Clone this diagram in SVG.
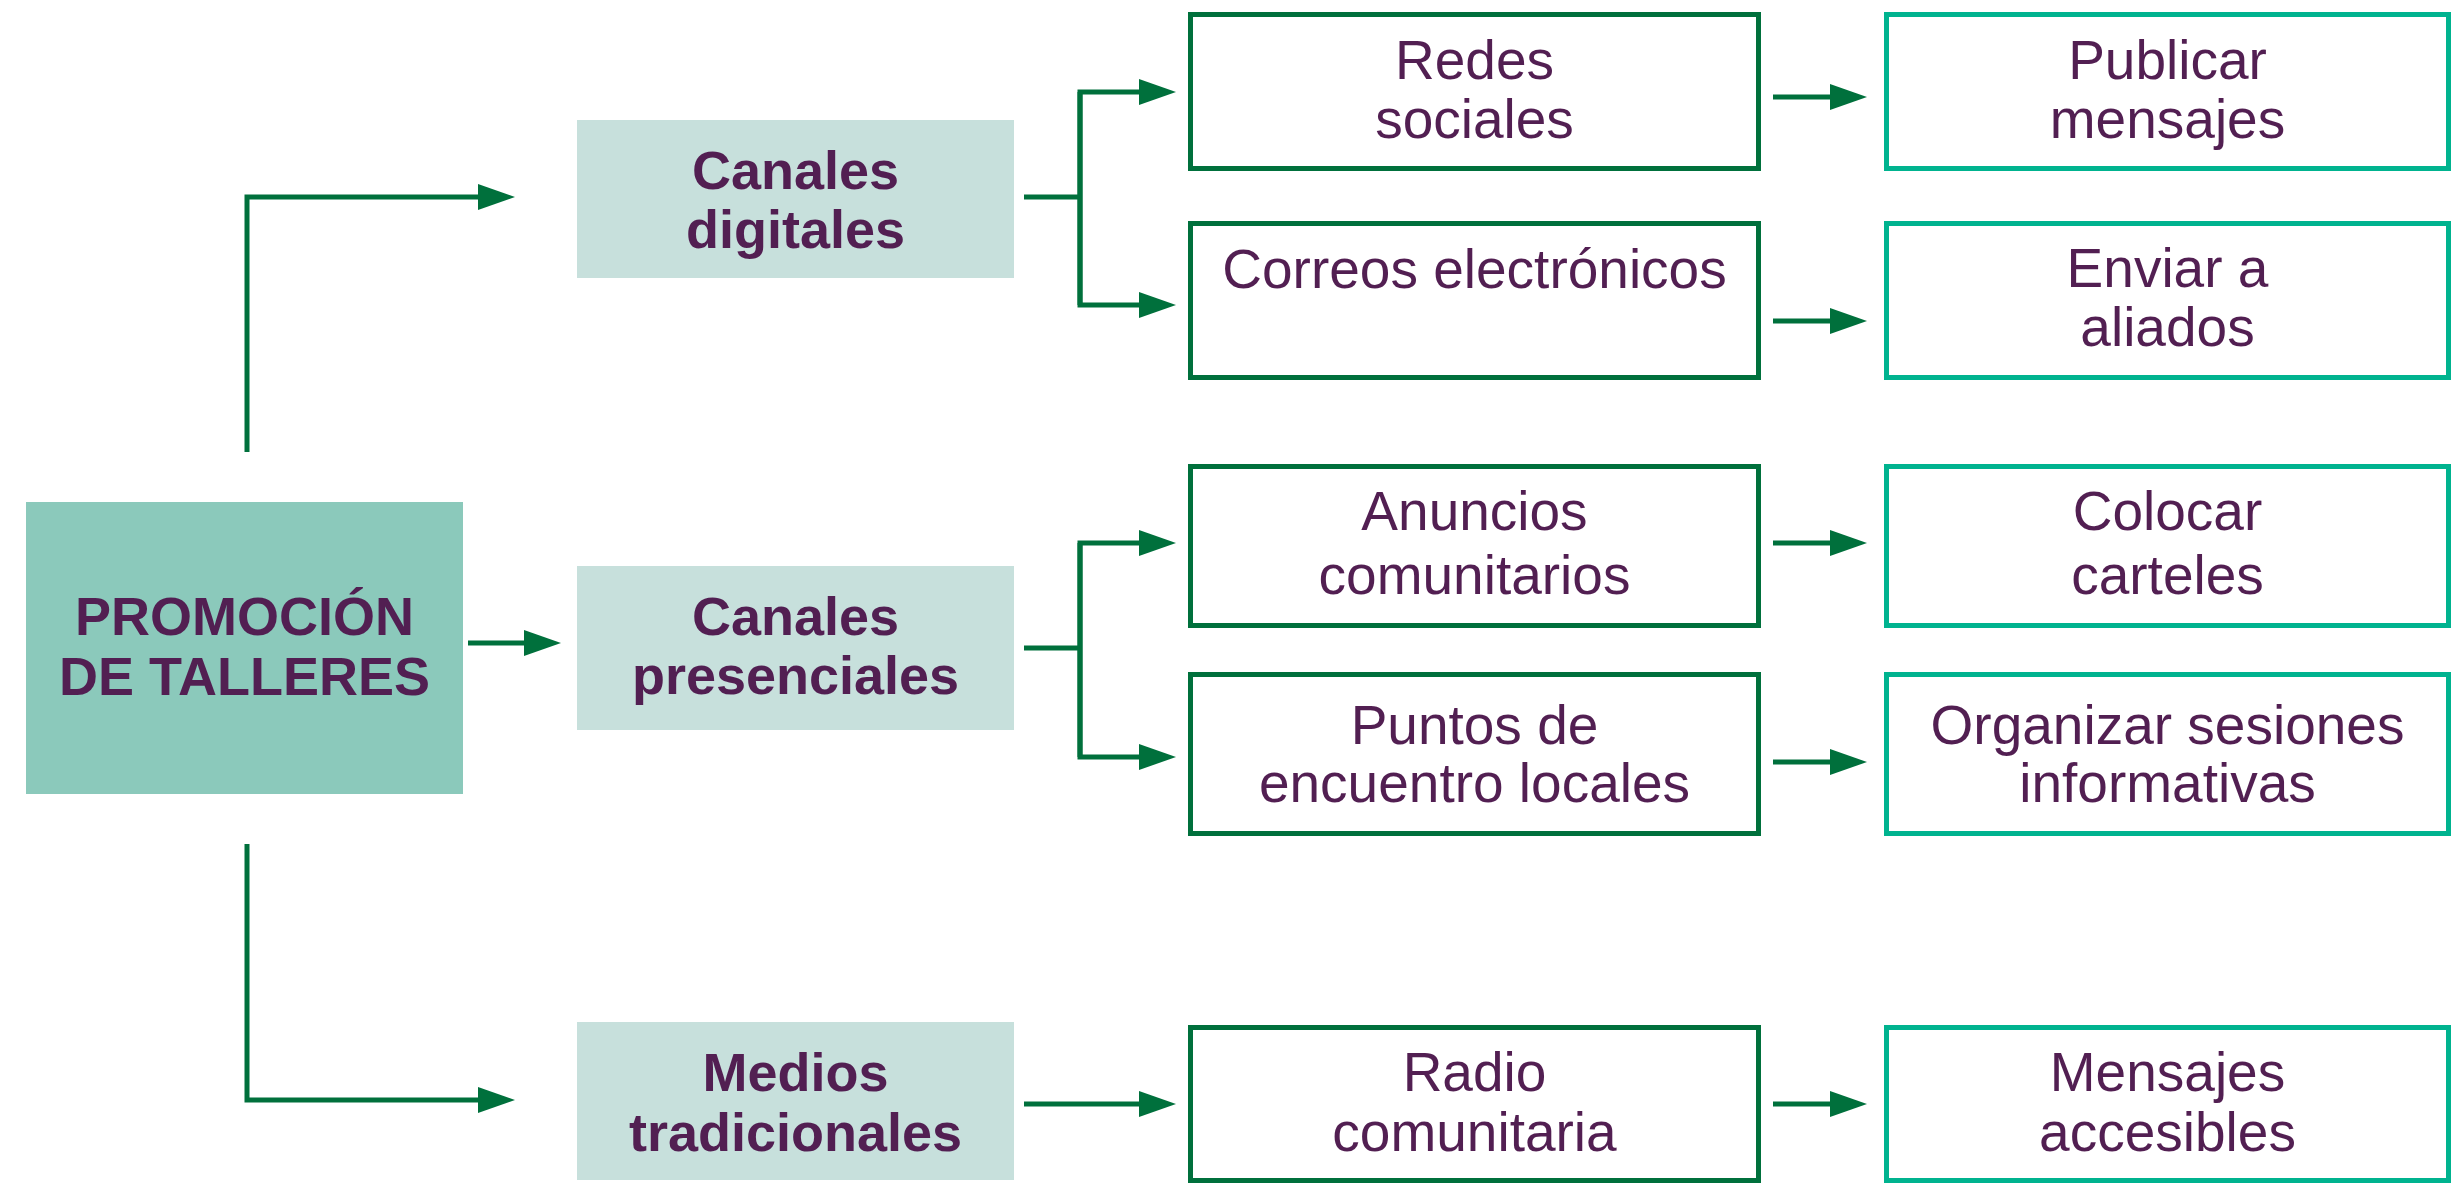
<svg xmlns="http://www.w3.org/2000/svg" width="2458" height="1188" viewBox="0 0 2458 1188">
<defs>
<style>
.conn{fill:none;stroke:#00703c;stroke-width:5}
.main{fill:#8bc9bb}
.l1{fill:#c7e0dc}
.l2{fill:#ffffff;stroke:#00703c;stroke-width:5}
.l3{fill:#ffffff;stroke:#00b38f;stroke-width:5}
text{font-family:"Liberation Sans",Arial,sans-serif;fill:#521f52;text-anchor:middle}
.tb{font-weight:bold;font-size:54px}
.tn{font-size:55px}
</style>
<marker id="ah" markerUnits="userSpaceOnUse" markerWidth="37" markerHeight="26" refX="27" refY="13" orient="auto">
<path d="M0,0 L37,13 L0,26 z" fill="#00703c"/>
</marker>
</defs>
<rect width="2458" height="1188" fill="#ffffff"/>
<g id="connectors">
<path class="conn" d="M247,452 V197 H505" marker-end="url(#ah)"/>
<path class="conn" d="M468,643 H551" marker-end="url(#ah)"/>
<path class="conn" d="M247,844 V1100 H505" marker-end="url(#ah)"/>
<path class="conn" d="M1024,197 H1080"/>
<path class="conn" d="M1080,305 V92 H1166" marker-end="url(#ah)"/>
<path class="conn" d="M1080,92 V305 H1166" marker-end="url(#ah)"/>
<path class="conn" d="M1024,648 H1080"/>
<path class="conn" d="M1080,757 V543 H1166" marker-end="url(#ah)"/>
<path class="conn" d="M1080,543 V757 H1166" marker-end="url(#ah)"/>
<path class="conn" d="M1024,1104 H1166" marker-end="url(#ah)"/>
<path class="conn" d="M1773,97 H1857" marker-end="url(#ah)"/>
<path class="conn" d="M1773,321 H1857" marker-end="url(#ah)"/>
<path class="conn" d="M1773,543 H1857" marker-end="url(#ah)"/>
<path class="conn" d="M1773,762 H1857" marker-end="url(#ah)"/>
<path class="conn" d="M1773,1104 H1857" marker-end="url(#ah)"/>
</g>
<g id="promocion">
<rect class="main" x="26" y="502" width="437" height="292"/>
<text class="tb" x="244.5" y="635">PROMOCIÓN</text>
<text class="tb" x="244.5" y="695">DE TALLERES</text>
</g>
<g id="canales-digitales">
<rect class="l1" x="577" y="120" width="437" height="158"/>
<text class="tb" x="795.5" y="189">Canales</text>
<text class="tb" x="795.5" y="248">digitales</text>
</g>
<g id="canales-presenciales">
<rect class="l1" x="577" y="566" width="437" height="164"/>
<text class="tb" x="795.5" y="635">Canales</text>
<text class="tb" x="795.5" y="694">presenciales</text>
</g>
<g id="medios-tradicionales">
<rect class="l1" x="577" y="1022" width="437" height="158"/>
<text class="tb" x="795.5" y="1091">Medios</text>
<text class="tb" x="795.5" y="1151">tradicionales</text>
</g>
<g id="redes-sociales">
<rect class="l2" x="1190.5" y="14.5" width="568" height="154"/>
<text class="tn" x="1474.5" y="79">Redes</text>
<text class="tn" x="1474.5" y="138">sociales</text>
</g>
<g id="correos">
<rect class="l2" x="1190.5" y="223.5" width="568" height="154"/>
<text class="tn" x="1474.5" y="288">Correos electrónicos</text>
</g>
<g id="anuncios">
<rect class="l2" x="1190.5" y="466.5" width="568" height="159"/>
<text class="tn" x="1474.5" y="530">Anuncios</text>
<text class="tn" x="1474.5" y="594">comunitarios</text>
</g>
<g id="puntos">
<rect class="l2" x="1190.5" y="674.5" width="568" height="159"/>
<text class="tn" x="1474.5" y="744">Puntos de</text>
<text class="tn" x="1474.5" y="802">encuentro locales</text>
</g>
<g id="radio">
<rect class="l2" x="1190.5" y="1027.5" width="568" height="153"/>
<text class="tn" x="1474.5" y="1091">Radio</text>
<text class="tn" x="1474.5" y="1151">comunitaria</text>
</g>
<g id="publicar">
<rect class="l3" x="1886.5" y="14.5" width="562" height="154"/>
<text class="tn" x="2167.5" y="79">Publicar</text>
<text class="tn" x="2167.5" y="138">mensajes</text>
</g>
<g id="enviar">
<rect class="l3" x="1886.5" y="223.5" width="562" height="154"/>
<text class="tn" x="2167.5" y="287">Enviar a</text>
<text class="tn" x="2167.5" y="346">aliados</text>
</g>
<g id="colocar">
<rect class="l3" x="1886.5" y="466.5" width="562" height="159"/>
<text class="tn" x="2167.5" y="530">Colocar</text>
<text class="tn" x="2167.5" y="594">carteles</text>
</g>
<g id="organizar">
<rect class="l3" x="1886.5" y="674.5" width="562" height="159"/>
<text class="tn" x="2167.5" y="744">Organizar sesiones</text>
<text class="tn" x="2167.5" y="802">informativas</text>
</g>
<g id="mensajes">
<rect class="l3" x="1886.5" y="1027.5" width="562" height="153"/>
<text class="tn" x="2167.5" y="1091">Mensajes</text>
<text class="tn" x="2167.5" y="1151">accesibles</text>
</g>
</svg>
